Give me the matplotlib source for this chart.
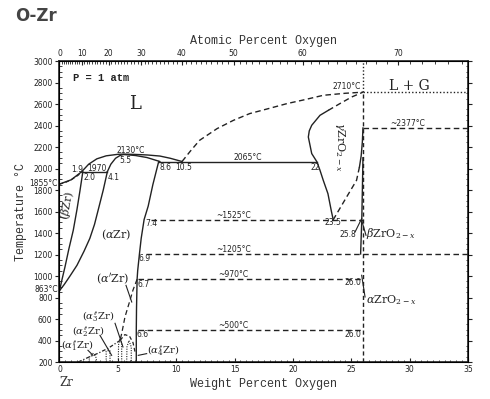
import numpy as np
import matplotlib
matplotlib.use("Agg")
import matplotlib.pyplot as plt

plt.rcParams['mathtext.fontset'] = 'dejavuserif'

# ---- phase boundaries (weight % O, temperature C) ----
liq_x = [0, 1.0, 1.9, 2.5, 3.2, 4.0, 5.0, 5.5, 6.5, 7.5, 8.6, 9.5, 10.5]
liq_t = [1855, 1895, 1970, 2040, 2090, 2118, 2132, 2134, 2131, 2126, 2116, 2095, 2065]
sol_a_x = [4.1, 4.4, 4.8, 5.2, 5.5, 6.5, 7.5, 8.6]
sol_a_t = [1970, 2040, 2095, 2122, 2130, 2121, 2102, 2065]
sol_b_x = [0, 0.5, 1.0, 1.5, 2.0]
sol_b_t = [1855, 1870, 1895, 1930, 1970]
beta_x = [0, 0.2, 0.47, 0.8, 1.18, 1.5, 1.76, 2.0]
beta_t = [863, 960, 1084, 1250, 1425, 1620, 1797, 1970]
alpha_x = [0, 0.4, 0.9, 1.5, 2.1, 2.6, 3.0, 3.4, 3.75, 4.1]
alpha_t = [863, 920, 1000, 1100, 1230, 1350, 1480, 1650, 1800, 1970]
solv_x = [8.5, 8.0, 7.6, 7.25, 7.0, 6.85, 6.7, 6.65, 6.6, 6.58, 6.58]
solv_t = [2065, 1850, 1650, 1525, 1350, 1205, 1050, 970, 700, 500, 200]
liqd_x = [10.5, 11.2, 12.0, 13.5, 14.9, 16.3, 18.0, 19.5, 21.0, 22.6, 24.5, 26.0]
liqd_t = [2065, 2160, 2262, 2371, 2448, 2511, 2560, 2604, 2640, 2681, 2700, 2710]
gam_l_x = [23.45, 23.3, 23.0, 22.6, 22.3, 22.04, 21.61, 21.32, 21.4, 21.61, 22.32, 23.03]
gam_l_t = [1525, 1600, 1766, 1890, 1990, 2065, 2139, 2293, 2350, 2402, 2495, 2541]
gam_ld_x = [23.03, 24.03, 25.03, 26.0]
gam_ld_t = [2541, 2604, 2665, 2710]
gam_r_x = [26.0, 25.95, 25.85, 25.7]
gam_r_t = [2377, 2250, 2120, 2014]
gam_rd_x = [25.7, 25.45, 24.6, 23.46]
gam_rd_t = [2014, 1890, 1735, 1525]
zro_b_x = [25.8, 25.9, 25.95, 26.0]
zro_b_t = [1205, 1525, 1800, 2100]
aprime_x = [6.65, 6.3, 6.04, 5.61, 5.33, 5.18]
aprime_t = [970, 870, 774, 619, 464, 402]
diag_x = [1.6, 2.5, 3.32, 4.2, 5.04, 5.2]
diag_t = [200, 245, 282, 330, 390, 402]
dome_x = [5.2, 5.6, 6.0, 6.3, 6.5]
dome_t = [402, 455, 440, 380, 280]

# isotherms: (temperature, start, end, label)
iso_t = [1525, 1205, 970, 500]
iso_x0 = [7.8, 7.4, 6.7, 6.7]
iso_x1 = [26, 35, 26, 26]
iso_lab = ['~1525°C', '~1205°C', '~970°C', '~500°C']

top_at = [0, 10, 20, 30, 40, 50, 60, 70]


def wt_from_at(a):
    a = np.asarray(a, dtype=float)
    return 100 * 16.0 * a / (16.0 * a + 91.224 * (100 - a))


fig = plt.figure(figsize=(4.9, 3.99), dpi=100)
ax = fig.add_axes([0.1214, 0.0927, 0.8337, 0.7544])
ax.set_xlim(0, 35)
ax.set_ylim(200, 3000)

k = '#222222'
lw = 1.0
ax.plot(liq_x, liq_t, color=k, lw=lw)
ax.plot(sol_a_x, sol_a_t, color=k, lw=lw)
ax.plot(sol_b_x, sol_b_t, color=k, lw=0.9, ls=(0, (3, 2)))
ax.plot(beta_x, beta_t, color=k, lw=lw)
ax.plot(alpha_x, alpha_t, color=k, lw=lw)
ax.plot(solv_x, solv_t, color=k, lw=lw)
ax.plot([1.9, 4.1], [1970, 1970], color=k, lw=lw)
ax.plot([8.5, 22.04], [2065, 2065], color=k, lw=lw)
ax.plot(liqd_x, liqd_t, color=k, lw=lw, ls=(0, (4, 2.5)))
ax.plot(gam_l_x, gam_l_t, color=k, lw=lw)
ax.plot(gam_ld_x, gam_ld_t, color=k, lw=lw, ls=(0, (4, 2.5)))
ax.plot(gam_r_x, gam_r_t, color=k, lw=lw)
ax.plot(gam_rd_x, gam_rd_t, color=k, lw=lw, ls=(0, (4, 2.5)))
ax.plot(zro_b_x, zro_b_t, color=k, lw=lw)
ax.plot([26, 26], [200, 2710], color=k, lw=lw, ls=(0, (3, 2)))
ax.plot([26, 26], [2710, 3000], color=k, lw=lw, ls=(0, (1, 1.5)))
ax.plot([26, 35], [2710, 2710], color=k, lw=lw, ls=(0, (1, 1.5)))
ax.plot([26, 35], [2377, 2377], color=k, lw=lw, ls=(0, (4, 2.5)))
for t, x0, x1, lab in zip(iso_t, iso_x0, iso_x1, iso_lab):
    ax.plot([x0, x1], [t, t], color=k, lw=lw, ls=(0, (4, 2.5)))
    ax.text(14.9, t + 40, lab, fontsize=5.5, ha='center', va='center', color=k)

# low temperature ordered phases
ax.plot(aprime_x, aprime_t, color=k, lw=0.9, ls=(0, (4, 2.5)))
ax.plot(diag_x, diag_t, color=k, lw=0.9, ls=(0, (3, 1.5, 1, 1.5)))
ax.plot(dome_x, dome_t, color=k, lw=0.9, ls=(0, (3, 2)))
for xs, ts in [([2.5, 2.6, 2.85, 3.1, 3.2], [200, 255, 280, 255, 200]),
               ([4.0, 4.0, 4.3, 4.33, 4.33], [200, 300, 310, 300, 200]),
               ([5.04, 5.06, 5.2, 5.33, 5.33], [200, 360, 420, 370, 200]),
               ([5.76, 5.78, 5.95, 6.15, 6.15], [200, 340, 400, 340, 200])]:
    ax.plot(xs, ts, color=k, lw=0.8, ls=(0, (1, 1.2)))

# numbers on the diagram
nums = [(1.52, 1990, '1.9'), (3.19, 1999, '1970'), (2.55, 1915, '2.0'), (4.61, 1915, '4.1'),
        (6.13, 2169, '2130°C'), (5.61, 2076, '5.5'), (9.12, 2014, '8.6'), (10.67, 2014, '10.5'),
        (16.15, 2107, '2065°C'), (21.89, 2014, '22'), (24.61, 2765, '2710°C'),
        (29.86, 2418, '~2377°C'), (23.41, 1495, '23.5'), (24.74, 1388, '25.8'),
        (7.9, 1487, '7.4'), (7.33, 1162, '6.9'), (7.24, 923, '6.7'), (7.13, 458, '6.6'),
        (25.12, 935, '26.0'), (25.12, 458, '26.0')]
for x, t, s in nums:
    ax.text(x, t, s, fontsize=5.5, ha='center', va='center', color=k)
ax.text(-0.15, 1865, '1855°C', fontsize=5.5, ha='right', va='center', color=k, clip_on=False)
ax.text(-0.15, 876, '863°C', fontsize=5.5, ha='right', va='center', color=k, clip_on=False)

# phase labels
ax.text(1.13, 2842, 'P = 1 atm', fontsize=7.5, family='Liberation Mono', weight='bold',
        ha='left', va='center', color=k)
ax.text(6.47, 2597, 'L', fontsize=13, family='DejaVu Serif', ha='center', va='center', color=k)
ax.text(29.94, 2765, 'L + G', fontsize=10, family='DejaVu Serif', ha='center', va='center', color=k)
ax.text(0.69, 1658, r'$(\beta\mathrm{Zr})$', fontsize=8, rotation=80, ha='center', va='center', color=k)
ax.text(4.9, 1388, r'$(\alpha\mathrm{Zr})$', fontsize=8, ha='center', va='center', color=k)
ax.text(4.58, 978, r"$(\alpha'\mathrm{Zr})$", fontsize=8, ha='center', va='center', color=k)
ax.text(3.32, 625, r"$(\alpha_3''\mathrm{Zr})$", fontsize=7.2, ha='center', va='center', color=k)
ax.text(2.47, 486, r"$(\alpha_2''\mathrm{Zr})$", fontsize=7.2, ha='center', va='center', color=k)
ax.text(1.47, 350, r"$(\alpha_1''\mathrm{Zr})$", fontsize=7.2, ha='center', va='center', color=k)
ax.text(8.89, 302, r"$(\alpha_4''\mathrm{Zr})$", fontsize=7.2, ha='center', va='center', color=k)
ax.text(24.03, 2200, r'$\gamma\mathrm{ZrO}_{2-x}$', fontsize=8, rotation=-90, ha='center', va='center', color=k)
ax.text(26.3, 1394, r'$\beta\mathrm{ZrO}_{2-x}$', fontsize=8, ha='left', va='center', color=k)
ax.text(26.25, 774, r'$\alpha\mathrm{ZrO}_{2-x}$', fontsize=8, ha='left', va='center', color=k)

# pointer lines
ptr = [((5.70, 913), (6.19, 758)), ((4.76, 560), (5.44, 340)), ((3.47, 448), (4.47, 262)),
       ((2.44, 309), (2.87, 262)), ((7.47, 278), (6.75, 262)), ((25.32, 1409), (25.89, 1534)),
       ((26.26, 1379), (25.89, 1518)), ((26.18, 805), (25.89, 1007))]
for (x0, t0), (x1, t1) in ptr:
    ax.plot([x0, x1], [t0, t1], color=k, lw=0.8)

# axes and ticks
for sp in ax.spines.values():
    sp.set_linewidth(1.2)
    sp.set_color(k)
ax.set_yticks(np.arange(200, 3001, 200))
ax.set_yticks(np.arange(200, 3001, 50), minor=True)
ax.set_xticks(np.arange(0, 36, 5))
ax.set_xticks(np.arange(0, 35.1, 0.5), minor=True)
ax.tick_params(axis='both', which='major', labelsize=5.5, length=3, width=0.8, colors=k, pad=2)
ax.tick_params(axis='both', which='minor', length=1.8, width=0.6, colors=k, direction='in')
ax.tick_params(axis='y', which='both', right=True)
ax.tick_params(axis='y', which='major', direction='out')
ax.tick_params(axis='x', which='major', direction='in')

ax2 = ax.twiny()
ax2.set_xlim(0, 35)
ax2.set_xticks(wt_from_at(top_at))
ax2.set_xticklabels([str(a) for a in top_at])
ax2.set_xticks(wt_from_at(np.arange(0, 76, 1)), minor=True)
ax2.tick_params(axis='x', which='major', labelsize=5.5, length=3, width=0.8, direction='in', colors=k, pad=2)
ax2.tick_params(axis='x', which='minor', length=1.8, width=0.6, direction='in', colors=k)

lab = dict(family='Liberation Mono', fontsize=8.5, color='#333333')
ax.set_xlabel('Weight Percent Oxygen', labelpad=3, **lab)
ax2.set_xlabel('Atomic Percent Oxygen', labelpad=4, **lab)
ax.set_ylabel('Temperature °C', labelpad=4, **lab)
fig.text(66 / 490, 1 - 383 / 399, 'Zr', family='DejaVu Serif', fontsize=8.5, ha='center', va='center', color='#333333')
fig.text(15 / 490, 1 - 16 / 399, 'O-Zr', fontsize=12, weight='bold', ha='left', va='center', color='#444444')

fig.savefig('out.png', dpi=100, facecolor='white')
